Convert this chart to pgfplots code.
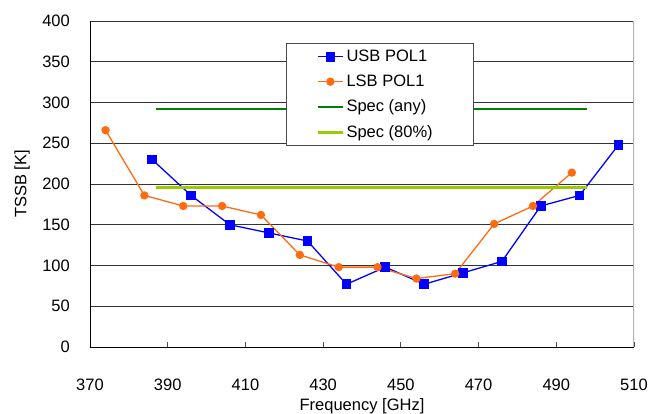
\documentclass[border=0pt]{standalone}
\usepackage{fontspec}
\setmainfont{Liberation Sans}
\usepackage{pgfplots}
\pgfplotsset{compat=1.18}

\definecolor{usbblue}{RGB}{0,0,255}
\definecolor{lsborange}{RGB}{255,108,16}
\definecolor{specgreen}{RGB}{0,128,0}
\definecolor{speclime}{RGB}{153,204,0}

\begin{document}
\fontsize{16.5bp}{20bp}\selectfont
\begin{tikzpicture}
\path[use as bounding box] (-90bp,-67bp) rectangle (566bp,347bp);
\begin{axis}[
    at={(0,0)}, anchor=south west,
    scale only axis,
    width=544bp, height=326bp,
    xmin=370, xmax=510, ymin=0, ymax=400,
    xtick={370,390,...,510},
    ytick={0,50,...,400},
    /pgf/number format/assume math mode=true,
    axis lines*=left,
    axis line style={black, line width=1pt},
    tick align=inside,
    major tick length=5bp,
    xtick style={black!70, line width=0.8pt},
    ytick style={draw=none},
    ymajorgrids,
    major grid style={black!80, line width=0.7pt},
    xticklabel style={anchor=base, yshift=-43bp},
    yticklabel style={anchor=east, xshift=-14.5bp},
    xlabel={Frequency [GHz]},
    ylabel={TSSB [K]},
    xlabel style={at={(axis description cs:0.5,0)}, anchor=base, yshift=-63bp},
    ylabel style={at={([xshift=-68bp]axis description cs:0,0.5)}, anchor=center, rotate=0},
    legend style={at={(0.36,0.9316)}, anchor=north west,
        draw=black!70, line width=0.8pt, fill=white,
        inner xsep=30bp, inner ysep=4bp, row sep=7bp,
        font=\fontsize{16.5bp}{20bp}\selectfont},
    legend cell align=left,
    legend image code/.code={\draw[mark repeat=2,mark phase=2,#1] plot coordinates {(0cm,0cm) (0.45cm,0cm) (0.9cm,0cm)};},
]
\addplot[usbblue, line width=1.3pt, mark=square*, mark size=4.2bp, mark options={solid}] coordinates {
(386,230) (396,186) (406,150) (416,140) (426,130) (436,77) (446,98)
(456,77) (466,91) (476,105) (486,173) (496,186) (506,248)};
\addlegendentry{USB POL1}
\addplot[lsborange, line width=1.3pt, mark=*, mark size=3.5bp, mark options={solid}] coordinates {
(374,266) (384,186) (394,173) (404,173) (414,162) (424,113) (434,98)
(444,98) (454,84) (464,90) (474,151) (484,173) (494,214)};
\addlegendentry{LSB POL1}
\addplot[specgreen, line width=2.4pt] coordinates {(387,292) (498,292)};
\addlegendentry{Spec (any)}
\addplot[speclime, line width=2.8pt] coordinates {(387,196) (498,196)};
\addlegendentry{Spec (80\%)\hspace*{9bp}}
\draw[black!30, line width=1.2pt] (rel axis cs:1,0) -- (rel axis cs:1,1);
\end{axis}
\end{tikzpicture}
\end{document}
